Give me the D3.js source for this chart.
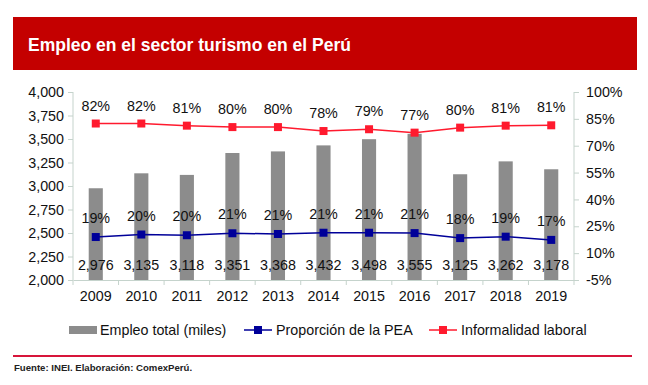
<!DOCTYPE html>
<html>
<head>
<meta charset="utf-8">
<script src="https://cdnjs.cloudflare.com/ajax/libs/d3/7.8.5/d3.min.js"></script>
<style>
  body { margin: 0; background: #fff; }
  svg text { font-family: "Liberation Sans", Arial, sans-serif; }
</style>
</head>
<body>
<div id="chart"></div>
<script>
// data
var years = ["2009","2010","2011","2012","2013","2014","2015","2016","2017","2018","2019"];
var empleo = [2976, 3135, 3118, 3351, 3368, 3432, 3498, 3555, 3125, 3262, 3178];
var pea = [19.0, 20.4, 20.0, 21.1, 20.7, 21.4, 21.4, 21.2, 18.4, 19.2, 17.4];
var informalidad = [82.4, 82.4, 81.2, 80.4, 80.4, 78.2, 79.2, 77.3, 80.1, 81.2, 81.4];
var leftTicks = [2000, 2250, 2500, 2750, 3000, 3250, 3500, 3750, 4000];
var rightTicks = [-5, 10, 25, 40, 55, 70, 85, 100];

var W = 648, H = 385;
var fs = 14.3;
var svg = d3.select("#chart").append("svg").attr("width", W).attr("height", H);

// title banner
svg.append("rect").attr("x", 13).attr("y", 17).attr("width", 624).attr("height", 53)
  .attr("fill", "#c40000");
svg.append("text").attr("x", 28).attr("y", 51)
  .attr("fill", "#fff").attr("font-size", 17.5).attr("font-weight", "bold")
  .text("Empleo en el sector turismo en el Perú");

var plot = {left: 73, right: 574, top: 92, bottom: 280};
var axisColor = "#c5d3cc";

var x = d3.scaleBand().domain(years).range([plot.left, plot.right]).paddingInner(0.69).paddingOuter(0.345);
var band = d3.scaleBand().domain(years).range([plot.left, plot.right]);
var yL = d3.scaleLinear().domain([2000, 4000]).range([plot.bottom, plot.top]);
var yR = d3.scaleLinear().domain([-5, 100]).range([plot.bottom, plot.top]);

// bars
svg.selectAll("rect.bar").data(empleo).enter().append("rect")
  .attr("class", "bar")
  .attr("x", function(d, i) { return x(years[i]); })
  .attr("width", x.bandwidth())
  .attr("y", function(d) { return yL(d); })
  .attr("height", function(d) { return yL(2000) - yL(d); })
  .attr("fill", "#8c8c8c");

// axes
var leftAxis = svg.append("g").attr("transform", "translate(" + plot.left + ",0)")
  .call(d3.axisLeft(yL).tickValues(leftTicks).tickSize(5).tickPadding(4)
    .tickFormat(d3.format(",")));
var rightAxis = svg.append("g").attr("transform", "translate(" + plot.right + ",0)")
  .call(d3.axisRight(yR).tickValues(rightTicks).tickSize(5).tickPadding(7)
    .tickFormat(function(d) { return d + "%"; }));
var bottomAxis = svg.append("g").attr("transform", "translate(0," + plot.bottom + ")")
  .call(d3.axisBottom(band).tickSize(0).tickPadding(11));
// tick marks between categories
svg.append("g").selectAll("line").data(years.concat(["end"])).enter().append("line")
  .attr("x1", function(d, i) { return plot.left + i * band.step(); })
  .attr("x2", function(d, i) { return plot.left + i * band.step(); })
  .attr("y1", plot.bottom).attr("y2", plot.bottom + 5)
  .attr("stroke", axisColor);

[leftAxis, rightAxis, bottomAxis].forEach(function(a) {
  a.select(".domain").attr("stroke", axisColor);
  a.selectAll(".tick line").attr("stroke", axisColor);
  a.selectAll("text").attr("font-size", fs).attr("fill", "#111")
    .attr("font-family", "Liberation Sans, Arial, sans-serif");
});
leftAxis.select(".domain").attr("d", "M0," + plot.top + "V" + plot.bottom);
rightAxis.select(".domain").attr("d", "M0," + plot.top + "V" + plot.bottom);

// bar value labels
svg.selectAll("text.barlbl").data(empleo).enter().append("text")
  .attr("x", function(d, i) { return band(years[i]) + band.bandwidth() / 2; })
  .attr("y", 270)
  .attr("text-anchor", "middle").attr("font-size", fs).attr("fill", "#111")
  .text(function(d) { return d3.format(",")(d); });

function drawSeries(vals, color, lblOffset) {
  var cx = function(d, i) { return band(years[i]) + band.bandwidth() / 2; };
  var line = d3.line().x(cx).y(function(d) { return yR(d); });
  svg.append("path").datum(vals).attr("d", line)
    .attr("fill", "none").attr("stroke", color).attr("stroke-width", 1.5);
  svg.append("g").selectAll("rect").data(vals).enter().append("rect")
    .attr("x", function(d, i) { return cx(d, i) - 4; })
    .attr("y", function(d) { return yR(d) - 4; })
    .attr("width", 8).attr("height", 8).attr("fill", color);
  svg.append("g").selectAll("text").data(vals).enter().append("text")
    .attr("x", cx)
    .attr("y", function(d) { return yR(d) - lblOffset; })
    .attr("text-anchor", "middle").attr("font-size", fs).attr("fill", "#111")
    .text(function(d) { return Math.round(d) + "%"; });
}
drawSeries(informalidad, "#ff1a2e", 13);
drawSeries(pea, "#000099", 14);

// legend
var ly = 330;
var lg = svg.append("g").attr("font-size", fs).attr("fill", "#111");
lg.append("rect").attr("x", 69).attr("y", ly - 4).attr("width", 28).attr("height", 8).attr("fill", "#8c8c8c");
lg.append("text").attr("x", 100).attr("y", ly + 5).text("Empleo total (miles)");
[[244, "#000099", "Proporción de la PEA"], [429, "#ff1a2e", "Informalidad laboral"]].forEach(function(l) {
  lg.append("line").attr("x1", l[0]).attr("x2", l[0] + 28).attr("y1", ly).attr("y2", ly)
    .attr("stroke", l[1]).attr("stroke-width", 1.5);
  lg.append("rect").attr("x", l[0] + 10).attr("y", ly - 4).attr("width", 8).attr("height", 8).attr("fill", l[1]);
  lg.append("text").attr("x", l[0] + 32).attr("y", ly + 5).text(l[2]);
});

// footer
svg.append("line").attr("x1", 13).attr("x2", 632).attr("y1", 356).attr("y2", 356)
  .attr("stroke", "#d7153a").attr("stroke-width", 2);
svg.append("text").attr("x", 14).attr("y", 370.5).attr("font-size", 9.6).attr("font-weight", "bold")
  .attr("fill", "#222").text("Fuente: INEI. Elaboración: ComexPerú.");
</script>
</body>
</html>
